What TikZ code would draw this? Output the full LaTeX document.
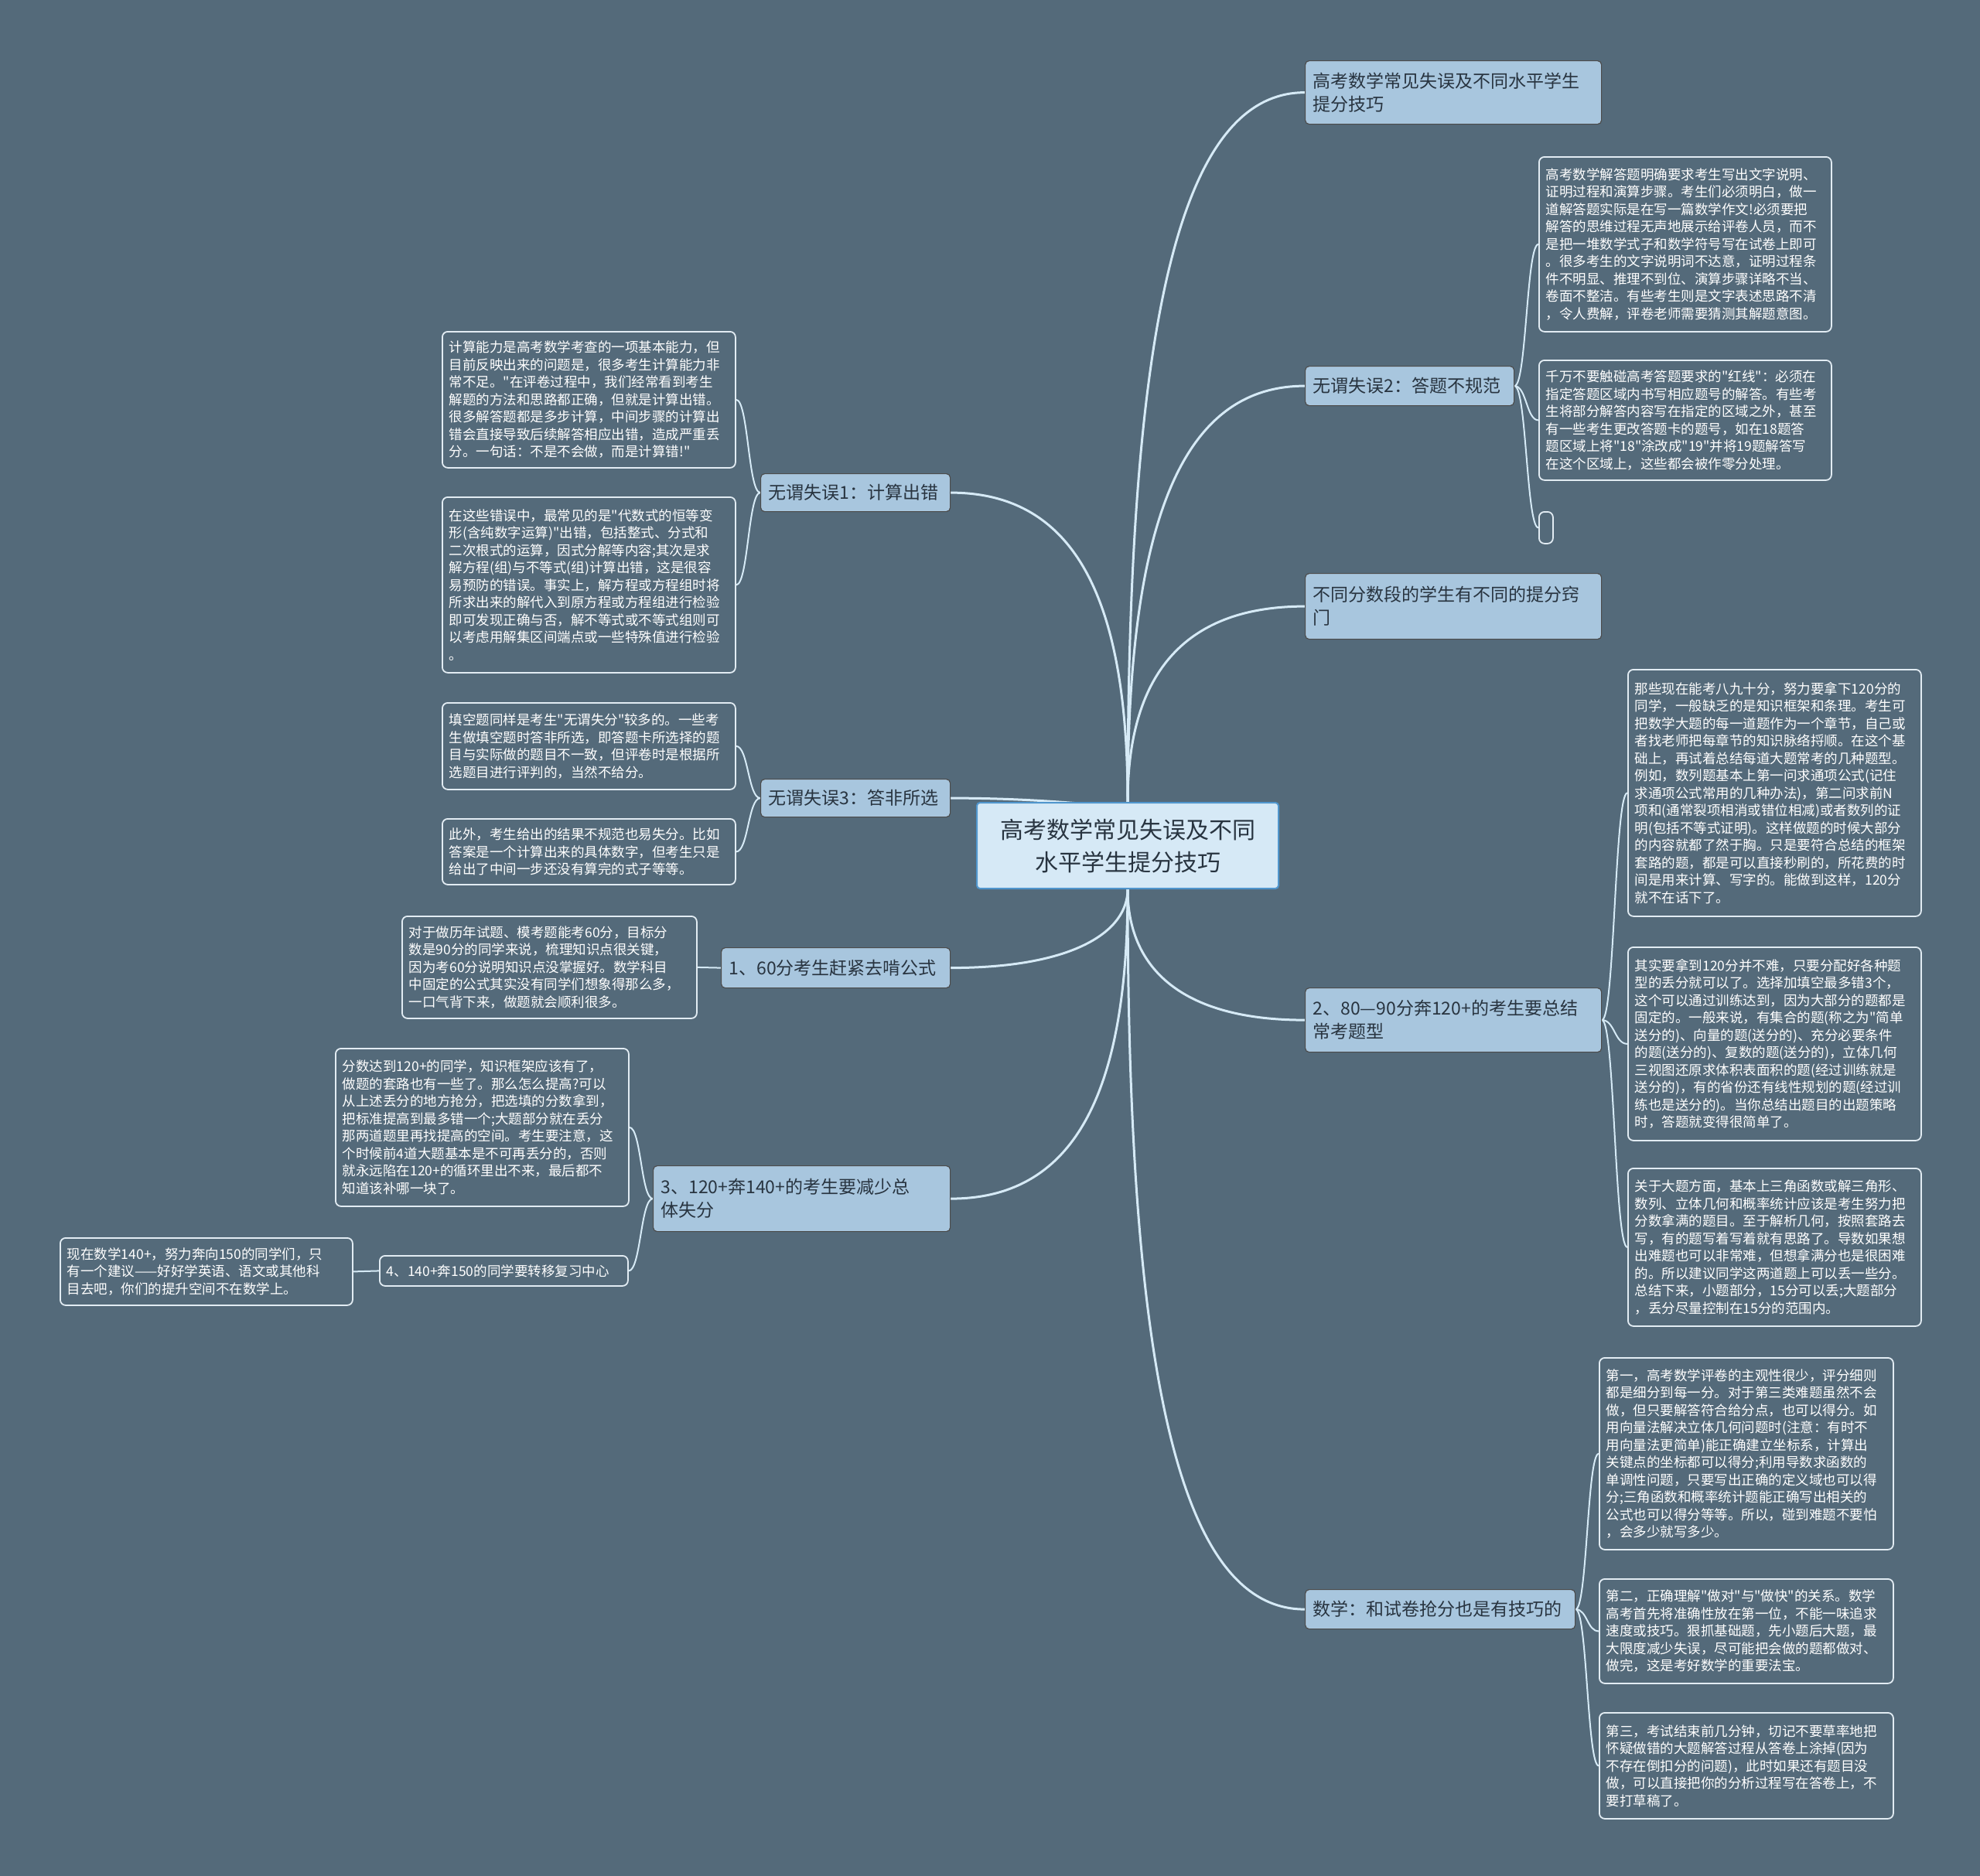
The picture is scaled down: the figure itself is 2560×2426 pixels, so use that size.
\documentclass[tikz,border=0pt]{standalone}
\usepackage{fontspec}
\setmainfont{Noto Sans CJK SC}[Ligatures=TeXOff]
\usepackage{tikz}
\usetikzlibrary{calc}
\usetikzlibrary{backgrounds}

\definecolor{bgcol}{RGB}{84,106,122}
\definecolor{linecol}{RGB}{214,234,246}
\definecolor{branchfill}{RGB}{168,198,222}
\definecolor{branchtext}{RGB}{40,52,64}
\definecolor{rootfill}{RGB}{214,233,246}
\definecolor{rootdraw}{RGB}{80,150,205}
\definecolor{leafdraw}{RGB}{226,236,243}

\begin{document}
\begin{tikzpicture}[x=1pt, y=-1pt,
    root/.style={draw=rootdraw, line width=2pt, fill=rootfill, rounded corners=4pt,
        text=branchtext, font=\fontsize{30}{42}\selectfont, align=center,
        anchor=north west, inner sep=0pt},
    branch/.style={draw=black!70, line width=1.2pt, fill=branchfill, rounded corners=5pt,
        text=branchtext, font=\fontsize{23}{30}\selectfont, align=left,
        anchor=north west, inner xsep=10pt, inner ysep=3pt},
    leaf/.style={draw=leafdraw, line width=1.8pt, fill=bgcol, rounded corners=7pt,
        text=white, font=\fontsize{17.5}{22.5}\selectfont, align=left,
        anchor=north west, inner xsep=9pt, inner ysep=3pt},
    mainedge/.style={draw=linecol, line width=3pt,
        to path={.. controls ($(\tikztostart)!0.7!(\tikztostart|-\tikztotarget)$)
            and ($(\tikztotarget)!0.7!(\tikztostart|-\tikztotarget)$) .. (\tikztotarget)}},
    subedge/.style={draw=linecol, line width=2pt,
        to path={.. controls ($(\tikztostart)!0.5!(\tikztostart-|\tikztotarget)$)
            and ($(\tikztotarget)!0.5!(\tikztotarget-|\tikztostart)$) .. (\tikztotarget)}}]

    \useasboundingbox (0,0) rectangle (2560,2426);
    \begin{scope}[on background layer]
        \fill[bgcol] (0,0) rectangle (2560,2426);
    \end{scope}

    % Root
    \node[root, minimum width=390pt, minimum height=111pt] (c) at (1262,1037)
        {高考数学常见失误及不同\\水平学生提分技巧};

    % Right branches
    \node[branch, text width=363pt, minimum height=82pt] (r1) at (1687,78)
        {高考数学常见失误及不同水平学生\\提分技巧};
    \node[branch, text width=250pt, minimum height=51pt] (r2) at (1687,473)
        {无谓失误2：答题不规范};
    \node[branch, text width=363pt, minimum height=85pt] (r3) at (1687,741)
        {不同分数段的学生有不同的提分窍\\门};
    \node[branch, text width=363pt, minimum height=83pt] (r4) at (1687,1277)
        {2、80—90分奔120+的考生要总结\\常考题型};
    \node[branch, text width=329pt, minimum height=51pt] (r5) at (1687,2055)
        {数学：和试卷抢分也是有技巧的};

    % Left branches
    \node[branch, text width=225pt, minimum height=49pt] (l1) at (983,612)
        {无谓失误1：计算出错};
    \node[branch, text width=225pt, minimum height=49pt] (l2) at (983,1007)
        {无谓失误3：答非所选};
    \node[branch, text width=276pt, minimum height=52pt] (l3) at (932,1225)
        {1、60分考生赶紧去啃公式};
    \node[branch, text width=364pt, minimum height=85pt] (l4) at (844,1507)
        {3、120+奔140+的考生要减少总\\体失分};
    \node[leaf, text width=303pt, minimum height=39pt] (l5) at (490,1623)
        {4、140+奔150的同学要转移复习中心};

    % Right leaves
    \node[leaf, text width=360pt, minimum height=226pt] (t1) at (1989,202)
        {高考数学解答题明确要求考生写出文字说明、\\证明过程和演算步骤。考生们必须明白，做一\\道解答题实际是在写一篇数学作文!必须要把\\解答的思维过程无声地展示给评卷人员，而不\\是把一堆数学式子和数学符号写在试卷上即可\\。很多考生的文字说明词不达意，证明过程条\\件不明显、推理不到位、演算步骤详略不当、\\卷面不整洁。有些考生则是文字表述思路不清\\，令人费解，评卷老师需要猜测其解题意图。};
    \node[leaf, text width=360pt, minimum height=155pt] (t2) at (1989,465)
        {千万不要触碰高考答题要求的"红线"：必须在\\指定答题区域内书写相应题号的解答。有些考\\生将部分解答内容写在指定的区域之外，甚至\\有一些考生更改答题卡的题号，如在18题答\\题区域上将"18"涂改成"19"并将19题解答写\\在这个区域上，这些都会被作零分处理。};
    \node[leaf, minimum width=18pt, minimum height=41pt, inner sep=0pt] (t3) at (1989,661) {};
    \node[leaf, text width=361pt, minimum height=319pt] (t4) at (2104,865)
        {那些现在能考八九十分，努力要拿下120分的\\同学，一般缺乏的是知识框架和条理。考生可\\把数学大题的每一道题作为一个章节，自己或\\者找老师把每章节的知识脉络捋顺。在这个基\\础上，再试着总结每道大题常考的几种题型。\\例如，数列题基本上第一问求通项公式(记住\\求通项公式常用的几种办法)，第二问求前N\\项和(通常裂项相消或错位相减)或者数列的证\\明(包括不等式证明)。这样做题的时候大部分\\的内容就都了然于胸。只是要符合总结的框架\\套路的题，都是可以直接秒刷的，所花费的时\\间是用来计算、写字的。能做到这样，120分\\就不在话下了。};
    \node[leaf, text width=361pt, minimum height=250pt] (t5) at (2104,1224)
        {其实要拿到120分并不难，只要分配好各种题\\型的丢分就可以了。选择加填空最多错3个，\\这个可以通过训练达到，因为大部分的题都是\\固定的。一般来说，有集合的题(称之为"简单\\送分的)、向量的题(送分的)、充分必要条件\\的题(送分的)、复数的题(送分的)，立体几何\\三视图还原求体积表面积的题(经过训练就是\\送分的)，有的省份还有线性规划的题(经过训\\练也是送分的)。当你总结出题目的出题策略\\时，答题就变得很简单了。};
    \node[leaf, text width=361pt, minimum height=204pt] (t6) at (2104,1510)
        {关于大题方面，基本上三角函数或解三角形、\\数列、立体几何和概率统计应该是考生努力把\\分数拿满的题目。至于解析几何，按照套路去\\写，有的题写着写着就有思路了。导数如果想\\出难题也可以非常难，但想拿满分也是很困难\\的。所以建议同学这两道题上可以丢一些分。\\总结下来，小题部分，15分可以丢;大题部分\\，丢分尽量控制在15分的范围内。};
    \node[leaf, text width=362pt, minimum height=248pt] (t7) at (2067,1755)
        {第一，高考数学评卷的主观性很少，评分细则\\都是细分到每一分。对于第三类难题虽然不会\\做，但只要解答符合给分点，也可以得分。如\\用向量法解决立体几何问题时(注意：有时不\\用向量法更简单)能正确建立坐标系，计算出\\关键点的坐标都可以得分;利用导数求函数的\\单调性问题，只要写出正确的定义域也可以得\\分;三角函数和概率统计题能正确写出相关的\\公式也可以得分等等。所以，碰到难题不要怕\\，会多少就写多少。};
    \node[leaf, text width=362pt, minimum height=135pt] (t8) at (2067,2041)
        {第二，正确理解"做对"与"做快"的关系。数学\\高考首先将准确性放在第一位，不能一味追求\\速度或技巧。狠抓基础题，先小题后大题，最\\大限度减少失误，尽可能把会做的题都做对、\\做完，这是考好数学的重要法宝。};
    \node[leaf, text width=362pt, minimum height=137pt] (t9) at (2067,2214)
        {第三，考试结束前几分钟，切记不要草率地把\\怀疑做错的大题解答过程从答卷上涂掉(因为\\不存在倒扣分的问题)，此时如果还有题目没\\做，可以直接把你的分析过程写在答卷上，不\\要打草稿了。};

    % Left leaves
    \node[leaf, text width=361pt, minimum height=176pt] (u1) at (571,428)
        {计算能力是高考数学考查的一项基本能力，但\\目前反映出来的问题是，很多考生计算能力非\\常不足。"在评卷过程中，我们经常看到考生\\解题的方法和思路都正确，但就是计算出错。\\很多解答题都是多步计算，中间步骤的计算出\\错会直接导致后续解答相应出错，造成严重丢\\分。一句话：不是不会做，而是计算错!"};
    \node[leaf, text width=361pt, minimum height=227pt] (u2) at (571,642)
        {在这些错误中，最常见的是"代数式的恒等变\\形(含纯数字运算)"出错，包括整式、分式和\\二次根式的运算，因式分解等内容;其次是求\\解方程(组)与不等式(组)计算出错，这是很容\\易预防的错误。事实上，解方程或方程组时将\\所求出来的解代入到原方程或方程组进行检验\\即可发现正确与否，解不等式或不等式组则可\\以考虑用解集区间端点或一些特殊值进行检验\\。};
    \node[leaf, text width=361pt, minimum height=112pt] (u3) at (571,908)
        {填空题同样是考生"无谓失分"较多的。一些考\\生做填空题时答非所选，即答题卡所选择的题\\目与实际做的题目不一致，但评卷时是根据所\\选题目进行评判的，当然不给分。};
    \node[leaf, text width=361pt, minimum height=85pt] (u4) at (571,1058)
        {此外，考生给出的结果不规范也易失分。比如\\答案是一个计算出来的具体数字，但考生只是\\给出了中间一步还没有算完的式子等等。};
    \node[leaf, text width=363pt, minimum height=132pt] (u5) at (519,1184)
        {对于做历年试题、模考题能考60分，目标分\\数是90分的同学来说，梳理知识点很关键，\\因为考60分说明知识点没掌握好。数学科目\\中固定的公式其实没有同学们想象得那么多，\\一口气背下来，做题就会顺利很多。};
    \node[leaf, text width=361pt, minimum height=204pt] (u6) at (433,1355)
        {分数达到120+的同学，知识框架应该有了，\\做题的套路也有一些了。那么怎么提高?可以\\从上述丢分的地方抢分，把选填的分数拿到，\\把标准提高到最多错一个;大题部分就在丢分\\那两道题里再找提高的空间。考生要注意，这\\个时候前4道大题基本是不可再丢分的，否则\\就永远陷在120+的循环里出不来，最后都不\\知道该补哪一块了。};
    \node[leaf, text width=360pt, minimum height=87pt] (u7) at (77,1600)
        {现在数学140+，努力奔向150的同学们，只\\有一个建议——好好学英语、语文或其他科\\目去吧，你们的提升空间不在数学上。};

    % Connectors
    \begin{scope}[on background layer]
        \draw[mainedge] (c) to (r1.west);
        \draw[mainedge] (c) to (r2.west);
        \draw[mainedge] (c) to (r3.west);
        \draw[mainedge] (c) to (r4.west);
        \draw[mainedge] (c) to (r5.west);
        \draw[mainedge] (c) to (l1.east);
        \draw[mainedge] (c) to (l2.east);
        \draw[mainedge] (c) to (l3.east);
        \draw[mainedge] (c) to (l4.east);

        \draw[subedge] (r2.east) to (t1.west);
        \draw[subedge] (r2.east) to (t2.west);
        \draw[subedge] (r2.east) to (t3.west);
        \draw[subedge] (r4.east) to (t4.west);
        \draw[subedge] (r4.east) to (t5.west);
        \draw[subedge] (r4.east) to (t6.west);
        \draw[subedge] (r5.east) to (t7.west);
        \draw[subedge] (r5.east) to (t8.west);
        \draw[subedge] (r5.east) to (t9.west);
        \draw[subedge] (l1.west) to (u1.east);
        \draw[subedge] (l1.west) to (u2.east);
        \draw[subedge] (l2.west) to (u3.east);
        \draw[subedge] (l2.west) to (u4.east);
        \draw[subedge] (l3.west) to (u5.east);
        \draw[subedge] (l4.west) to (u6.east);
        \draw[subedge] (l4.west) to (l5.east);
        \draw[subedge] (l5.west) to (u7.east);
    \end{scope}
\end{tikzpicture}
\end{document}
